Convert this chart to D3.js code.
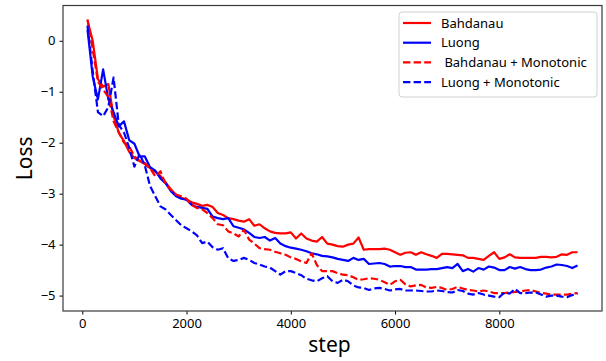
<!DOCTYPE html>
<html>
<head>
<meta charset="utf-8">
<script src="https://cdn.jsdelivr.net/npm/d3@7"></script>
<style>
  body { margin: 0; background: #fff; }
  text { font-family: "Noto Sans", "Open Sans", sans-serif; fill: #000; }
</style>
</head>
<body>
<svg id="chart" width="606" height="361"></svg>
<script>
// training steps, every 100
const steps = d3.range(100, 9501, 100);

const bahdanau = [
  0.40, 0.00, -0.75, -0.90, -0.85, -1.48, -1.80, -1.97, -2.18, -2.30,
  -2.36, -2.42, -2.50, -2.57, -2.65, -2.78, -2.92, -3.02, -3.08, -3.12,
  -3.17, -3.20, -3.24, -3.22, -3.26, -3.38, -3.42, -3.48, -3.50, -3.53,
  -3.55, -3.50, -3.63, -3.60, -3.68, -3.74, -3.77, -3.78, -3.78, -3.76,
  -3.88, -3.78, -3.88, -3.92, -3.94, -3.85, -3.98, -4.00, -4.03, -4.04,
  -4.00, -3.98, -3.86, -4.10, -4.09, -4.09, -4.09, -4.08, -4.10, -4.15,
  -4.20, -4.16, -4.15, -4.20, -4.15, -4.19, -4.22, -4.26, -4.18, -4.18,
  -4.19, -4.20, -4.21, -4.26, -4.26, -4.28, -4.30, -4.22, -4.15, -4.28,
  -4.25, -4.19, -4.25, -4.26, -4.26, -4.26, -4.26, -4.24, -4.24, -4.25,
  -4.24, -4.19, -4.20, -4.15, -4.15
];

const luong = [
  0.22, -0.70, -1.15, -0.56, -1.15, -1.40, -1.68, -1.58, -1.95, -2.02,
  -2.27, -2.27, -2.48, -2.55, -2.70, -2.80, -2.95, -3.05, -3.10, -3.12,
  -3.22, -3.26, -3.28, -3.30, -3.45, -3.48, -3.50, -3.48, -3.64, -3.67,
  -3.70, -3.77, -3.85, -3.87, -3.85, -3.92, -3.87, -3.98, -4.03, -4.06,
  -4.08, -4.10, -4.13, -4.17, -4.19, -4.22, -4.23, -4.25, -4.28, -4.30,
  -4.32, -4.26, -4.30, -4.28, -4.38, -4.37, -4.36, -4.38, -4.43, -4.42,
  -4.42, -4.44, -4.44, -4.49, -4.49, -4.49, -4.48, -4.48, -4.46, -4.44,
  -4.46, -4.38, -4.52, -4.48, -4.53, -4.46, -4.49, -4.43, -4.45, -4.50,
  -4.50, -4.44, -4.47, -4.44, -4.48, -4.50, -4.50, -4.49, -4.45, -4.43,
  -4.39, -4.40, -4.42, -4.46, -4.41
];

const bahdanauMono = [
  0.42, -0.17, -0.80, -0.96, -1.10, -1.58, -1.80, -2.00, -2.07, -2.27,
  -2.35, -2.40, -2.50, -2.66, -2.56, -2.82, -2.92, -3.02, -3.05, -3.10,
  -3.22, -3.28, -3.31, -3.38, -3.48, -3.60, -3.62, -3.74, -3.78, -3.84,
  -3.71, -3.90, -3.98, -4.07, -4.09, -4.10, -4.14, -4.17, -4.20, -4.25,
  -4.28, -4.33, -4.36, -4.17, -4.40, -4.52, -4.52, -4.52, -4.56, -4.59,
  -4.60, -4.64, -4.69, -4.68, -4.66, -4.67, -4.69, -4.74, -4.79, -4.72,
  -4.69, -4.78, -4.82, -4.80, -4.79, -4.84, -4.85, -4.83, -4.85, -4.89,
  -4.87, -4.83, -4.86, -4.89, -4.90, -4.92, -4.90, -4.92, -4.95, -4.95,
  -4.95, -4.94, -4.93, -4.92, -4.90, -4.89, -4.92, -4.95, -4.96, -4.98,
  -4.98, -4.98, -4.98, -4.96, -4.95
];

const luongMono = [
  0.30, -0.60, -1.40, -1.48, -1.30, -0.72, -1.65, -1.80, -2.10, -2.47,
  -2.22, -2.45, -2.85, -3.05, -3.25, -3.31, -3.42, -3.52, -3.62, -3.68,
  -3.74, -3.82, -3.97, -3.94, -4.05, -4.10, -4.07, -4.27, -4.32, -4.30,
  -4.26, -4.30, -4.36, -4.39, -4.43, -4.45, -4.52, -4.59, -4.52, -4.52,
  -4.56, -4.60, -4.67, -4.70, -4.72, -4.66, -4.62, -4.72, -4.75, -4.69,
  -4.72, -4.80, -4.84, -4.85, -4.89, -4.86, -4.85, -4.87, -4.90, -4.88,
  -4.87, -4.90, -4.90, -4.90, -4.91, -4.92, -4.92, -4.90, -4.91, -4.93,
  -4.94, -4.89, -4.91, -4.96, -4.98, -4.95, -4.98, -5.00, -5.02, -5.03,
  -4.94, -4.96, -4.87, -4.95, -4.95, -4.94, -4.94, -4.98, -5.02, -5.00,
  -5.00, -5.02, -5.03, -4.99, -4.96
];

const seriesNames = ['Bahdanau', 'Luong', ' Bahdanau + Monotonic', 'Luong + Monotonic'];
const seriesColors = ['#ff0000', '#0000ff', '#ff0000', '#0000ff'];
const seriesDashed = [false, false, true, true];
const seriesValues = [bahdanau, luong, bahdanauMono, luongMono];

const xTicks = [0, 2000, 4000, 6000, 8000];
const yTicks = [0, -1, -2, -3, -4, -5];

const W = 606, H = 361;
const margin = { top: 5.5, right: 4, bottom: 50, left: 63 };
const innerW = W - margin.left - margin.right;
const innerH = H - margin.top - margin.bottom;

// matplotlib-like 5% padding around the data
function padded(ext) {
  const p = (ext[1] - ext[0]) * 0.05;
  return [ext[0] - p, ext[1] + p];
}
const allY = seriesValues.flat();

const x = d3.scaleLinear().domain(padded(d3.extent(steps))).range([0, innerW]);
const y = d3.scaleLinear().domain(padded(d3.extent(allY))).range([innerH, 0]);

const svg = d3.select('#chart');
const chart = svg.append('g')
  .attr('transform', `translate(${margin.left},${margin.top})`);

const clip = chart.append('clipPath').attr('id', 'clip')
  .append('rect').attr('width', innerW).attr('height', innerH);

const line = d3.line()
  .x((d, i) => x(steps[i]))
  .y(d => y(d));

const lines = chart.append('g').attr('clip-path', 'url(#clip)');
seriesValues.forEach((vals, k) => {
  lines.append('path')
    .datum(vals)
    .attr('fill', 'none')
    .attr('stroke', seriesColors[k])
    .attr('stroke-width', 2.2)
    .attr('stroke-linejoin', 'round')
    .attr('stroke-dasharray', seriesDashed[k] ? '7.4,3.2' : null)
    .attr('d', line);
});

const fmt = d => (d < 0 ? '\u2212' + Math.abs(d) : '' + d);

const xAxis = chart.append('g')
  .attr('transform', `translate(0,${innerH})`)
  .call(d3.axisBottom(x).tickValues(xTicks).tickSizeInner(3.5).tickSizeOuter(0).tickPadding(4).tickFormat(fmt));

const yAxis = chart.append('g')
  .call(d3.axisLeft(y).tickValues(yTicks).tickSizeInner(3.5).tickSizeOuter(0).tickPadding(4).tickFormat(fmt));

[xAxis, yAxis].forEach(a => {
  a.select('.domain').remove();
  a.selectAll('.tick line').attr('stroke', '#000').attr('stroke-width', 1);
  a.selectAll('.tick text')
    .style('font-family', '"Noto Sans", "Open Sans", sans-serif')
    .style('font-size', '13px')
    .attr('fill', '#000');
});

// frame
chart.append('rect')
  .attr('width', innerW).attr('height', innerH)
  .attr('fill', 'none')
  .attr('stroke', '#3a3a3a')
  .attr('stroke-width', 1.2);

// axis titles
svg.append('text')
  .attr('x', margin.left + innerW / 2 - 3)
  .attr('y', 352)
  .attr('text-anchor', 'middle')
  .style('font-size', '21px')
  .text('step');

svg.append('text')
  .attr('transform', `translate(32,${margin.top + innerH / 2}) rotate(-90)`)
  .attr('text-anchor', 'middle')
  .style('font-size', '21px')
  .text('Loss');

// legend
const legend = svg.append('g').attr('transform', 'translate(399,12)');
legend.append('rect')
  .attr('width', 198).attr('height', 85)
  .attr('rx', 3)
  .attr('fill', '#fff')
  .attr('fill-opacity', 0.8)
  .attr('stroke', '#d0d0d0');

seriesNames.forEach((name, k) => {
  const g = legend.append('g').attr('transform', `translate(0,${11 + k * 19.7})`);
  g.append('line')
    .attr('x1', 4).attr('x2', 32)
    .attr('stroke', seriesColors[k])
    .attr('stroke-width', 2.2)
    .attr('stroke-dasharray', seriesDashed[k] ? '7.4,3.2' : null);
  g.append('text')
    .attr('x', 42)
    .attr('dy', '0.35em')
    .style('font-size', '13px')
    .style('white-space', 'pre')
    .text(name);
});
</script>
</body>
</html>
